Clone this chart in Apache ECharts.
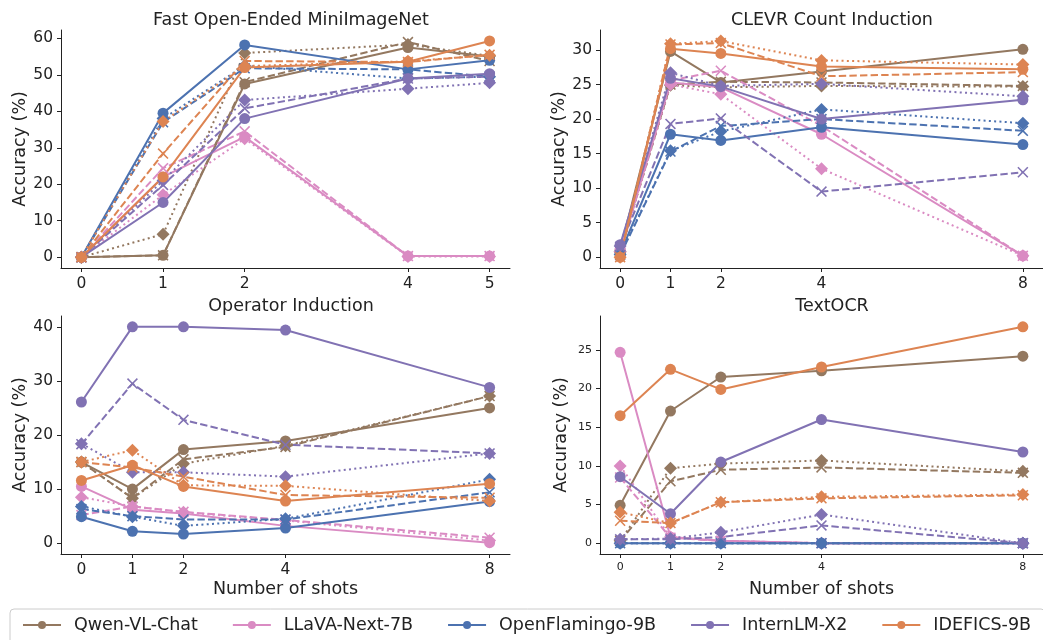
<!DOCTYPE html>
<html>
<head>
<meta charset="utf-8">
<script src="https://cdn.jsdelivr.net/npm/echarts@6/dist/echarts.min.js"></script>
<style>
  html, body { margin: 0; padding: 0; background: #fff; }
  #chart { width: 1043px; height: 640px; }
</style>
</head>
<body>
<div id="chart"></div>
<script>
var models = ['Qwen-VL-Chat', 'LLaVA-Next-7B', 'OpenFlamingo-9B', 'InternLM-X2', 'IDEFICS-9B'];
var colors = ['#937860', '#da8bc3', '#4c72b0', '#8172b3', '#dd8452'];
var shotsMini = [0, 1, 2, 4, 5];
var shots = [0, 1, 2, 4, 8];

// Fast Open-Ended MiniImageNet (rows follow models)
var miniSolid = [
  [0, 0.5, 47.5, 57.5, 55.0],
  [0, 22.0, 33.0, 0.3, 0.3],
  [0, 39.5, 58.2, 51.5, 54.0],
  [0, 15.0, 38.0, 49.0, 50.3],
  [0, 22.0, 52.0, 53.6, 59.3]
];
var miniDashed = [
  [0, 0.5, 48.0, 59.0, 53.8],
  [0, 24.4, 34.5, 0.3, 0.3],
  [0, 37.0, 51.8, 51.5, 49.5],
  [0, 19.8, 40.8, 49.0, 49.5],
  [0, 28.4, 53.8, 53.5, 55.5]
];
var miniDotted = [
  [0, 6.3, 56.0, 58.3, 55.2],
  [0, 17.1, 32.5, 0.2, 0.2],
  [0, 38.0, 52.5, 49.0, 49.5],
  [0, 21.0, 43.1, 46.2, 47.8],
  [0, 37.2, 52.4, 53.7, 55.4]
];

// CLEVR Count Induction
var clevrSolid = [
  [1.0, 29.8, 25.3, 26.9, 30.1],
  [1.2, 25.3, 24.6, 17.8, 0.2],
  [0.5, 17.8, 16.9, 18.8, 16.3],
  [1.8, 25.9, 24.7, 20.0, 22.8],
  [0, 30.2, 29.5, 27.6, 27.2]
];
var clevrDashed = [
  [0.9, 25.0, 25.4, 25.3, 24.8],
  [0.5, 25.6, 27.0, 19.0, 0.2],
  [0.3, 15.3, 19.0, 20.0, 18.3],
  [1.5, 19.3, 20.1, 9.5, 12.3],
  [0, 30.8, 31.0, 26.2, 26.8]
];
var clevrDotted = [
  [0.8, 24.9, 24.6, 24.8, 24.7],
  [0.8, 25.0, 23.6, 12.8, 0.2],
  [0.4, 15.4, 18.2, 21.4, 19.4],
  [1.6, 26.7, 24.8, 25.1, 23.3],
  [0, 30.9, 31.3, 28.5, 27.9]
];

// Operator Induction
var operSolid = [
  [15.0, 10.0, 17.3, 18.9, 25.0],
  [10.5, 6.2, 5.5, 3.2, 0.1],
  [4.9, 2.2, 1.7, 2.8, 7.7],
  [26.1, 40.0, 40.0, 39.4, 28.8],
  [11.6, 14.4, 10.5, 7.8, 11.0]
];
var operDashed = [
  [15.0, 8.3, 15.5, 17.8, 27.2],
  [5.2, 6.8, 5.8, 4.3, 1.0],
  [6.3, 5.0, 4.4, 4.4, 9.4],
  [18.3, 29.5, 22.8, 18.2, 16.6],
  [15.0, 14.0, 12.3, 8.9, 8.4]
];
var operDotted = [
  [15.0, 8.3, 14.7, 18.0, 27.2],
  [8.5, 6.8, 5.7, 4.2, 0.5],
  [6.8, 4.9, 3.2, 4.5, 11.8],
  [18.4, 13.1, 13.1, 12.3, 16.6],
  [15.0, 17.2, 10.7, 10.6, 7.8]
];

// TextOCR
var ocrSolid = [
  [4.9, 17.1, 21.5, 22.3, 24.2],
  [24.7, 0.8, 0.3, 0, 0],
  [0, 0, 0, 0, 0],
  [8.6, 3.8, 10.5, 16.0, 11.8],
  [16.5, 22.5, 19.9, 22.8, 28.0]
];
var ocrDashed = [
  [0.3, 8.0, 9.5, 9.8, 9.1],
  [8.5, 0.7, 0.3, 0, 0],
  [0, 0, 0, 0, 0],
  [0.5, 0.5, 0.8, 2.3, 0],
  [2.9, 2.6, 5.3, 5.8, 6.2]
];
var ocrDotted = [
  [0.3, 9.7, 10.3, 10.7, 9.3],
  [10.0, 0.8, 0.3, 0, 0],
  [0, 0, 0, 0, 0],
  [0.5, 0.6, 1.4, 3.7, 0],
  [4.0, 2.6, 5.3, 6.0, 6.3]
];

var titles = ['Fast Open-Ended MiniImageNet', 'CLEVR Count Induction', 'Operator Induction', 'TextOCR'];
var panels = [
  {xs: shotsMini, sets: [miniSolid, miniDashed, miniDotted]},
  {xs: shots, sets: [clevrSolid, clevrDashed, clevrDotted]},
  {xs: shots, sets: [operSolid, operDashed, operDotted]},
  {xs: shots, sets: [ocrSolid, ocrDashed, ocrDotted]}
];

var font = 'DejaVu Sans';
var ink = '#222222';
var crossPath = 'path://M1,0L5,4L9,0L10,1L6,5L10,9L9,10L5,6L1,10L0,9L4,5L0,1Z';
var styles = [
  {tag: '', symbol: 'circle', size: 11, line: 'solid'},
  {tag: ' (dashed)', symbol: crossPath, size: 11, line: [7.4, 3.2]},
  {tag: ' (dotted)', symbol: 'diamond', size: 13, line: [2, 3.3]}
];

var grids = [
  {left: 61, top: 30, width: 449, height: 238},
  {left: 600, top: 30, width: 449, height: 238},
  {left: 61, top: 316, width: 449, height: 238},
  {left: 600, top: 316, width: 449, height: 238}
];
var xRanges = [[-0.25, 5.25], [-0.4, 8.4], [-0.4, 8.4], [-0.4, 8.4]];
var yRanges = [[-2.97, 62.3], [-1.57, 32.9], [-2.0, 42.0], [-1.4, 29.4]];
var yTicks = [[0, 10, 20, 30, 40, 50, 60], [0, 5, 10, 15, 20, 25, 30], [0, 10, 20, 30, 40], [0, 5, 10, 15, 20, 25]];
var tickFont = [15.5, 15.5, 15.5, 11];

var xAxes = [], yAxes = [], series = [];
for (var p = 0; p < 4; p++) {
  xAxes.push({
    type: 'value', gridIndex: p, min: xRanges[p][0], max: xRanges[p][1],
    name: p >= 2 ? 'Number of shots' : '', nameLocation: 'middle', nameGap: 26,
    nameTextStyle: {fontFamily: font, fontSize: 17.5, color: ink},
    axisLine: {onZero: false, lineStyle: {color: ink, width: 1}},
    axisTick: {inside: false, length: 4, lineStyle: {color: ink}, customValues: panels[p].xs},
    axisLabel: {fontFamily: font, fontSize: tickFont[p], color: ink, margin: 8, customValues: panels[p].xs},
    splitLine: {show: false}
  });
  yAxes.push({
    type: 'value', gridIndex: p, min: yRanges[p][0], max: yRanges[p][1],
    name: 'Accuracy (%)', nameLocation: 'middle', nameGap: 30,
    nameTextStyle: {fontFamily: font, fontSize: 17.5, color: ink},
    axisLine: {onZero: false, lineStyle: {color: ink, width: 1}},
    axisTick: {inside: false, length: 4, lineStyle: {color: ink}, customValues: yTicks[p]},
    axisLabel: {fontFamily: font, fontSize: tickFont[p], color: ink, margin: 8, customValues: yTicks[p]},
    splitLine: {show: false}
  });
  for (var m = 0; m < models.length; m++) {
    for (var s = 0; s < 3; s++) {
      var vals = panels[p].sets[s][m];
      var xs = panels[p].xs;
      series.push({
        type: 'line',
        name: models[m] + styles[s].tag,
        xAxisIndex: p, yAxisIndex: p,
        data: xs.map(function (x, i) { return [x, vals[i]]; }),
        symbol: styles[s].symbol,
        symbolSize: styles[s].size,
        showAllSymbol: true,
        lineStyle: {color: colors[m], width: 2, type: styles[s].line},
        itemStyle: {color: colors[m]},
        emphasis: {disabled: true},
        animation: false
      });
    }
  }
}

var chart = echarts.init(document.getElementById('chart'));
chart.setOption({
  backgroundColor: '#fff',
  animation: false,
  title: [
    {text: titles[0], left: 286, top: 6, textAlign: 'center'},
    {text: titles[1], left: 827, top: 6, textAlign: 'center'},
    {text: titles[2], left: 286, top: 292, textAlign: 'center'},
    {text: titles[3], left: 827, top: 292, textAlign: 'center'}
  ].map(function (t) {
    t.textStyle = {fontFamily: font, fontSize: 17.5, fontWeight: 'normal', color: ink};
    return t;
  }),
  legend: {
    data: models,
    left: 10, top: 609, width: 1300,
    orient: 'horizontal',
    itemWidth: 38, itemHeight: 10, itemGap: 34,
    padding: [7, 14, 12, 12],
    borderColor: '#cccccc', borderWidth: 1, borderRadius: 4,
    textStyle: {fontFamily: font, fontSize: 17.5, color: ink, padding: [0, 0, 0, 8]}
  },
  grid: grids,
  xAxis: xAxes,
  yAxis: yAxes,
  series: series
});
</script>
</body>
</html>
